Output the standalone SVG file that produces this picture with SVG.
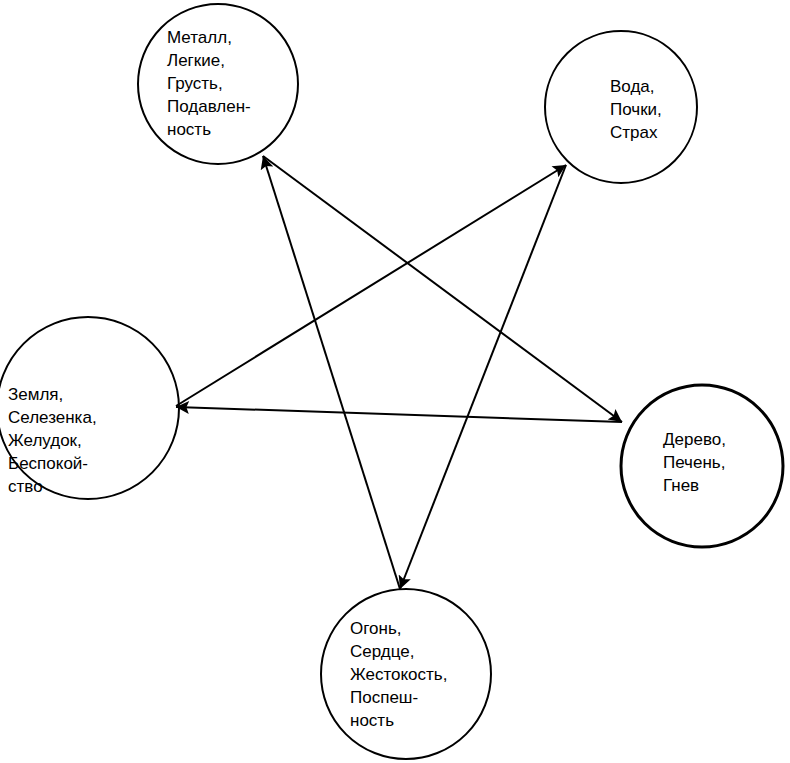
<svg xmlns="http://www.w3.org/2000/svg" width="790" height="763" viewBox="0 0 790 763">
<style>
circle{fill:#fff;stroke:#000;stroke-width:2}
text{font-family:"Liberation Sans",Arial,sans-serif;font-size:17px;fill:#000}
.c line{stroke:#000;stroke-width:2;marker-end:url(#a)}
</style>
<defs><marker id="a" viewBox="0 0 10 10" refX="10" refY="5" markerWidth="15" markerHeight="13" markerUnits="userSpaceOnUse" orient="auto"><path d="M0,0L10,5L0,10L2,5z" fill="#000"/></marker></defs>
<rect width="790" height="763" fill="#fff"/>
<g id="metal"><circle cx="218" cy="84" r="80"/><text x="167" y="43">Металл,<tspan x="167" dy="23">Легкие,</tspan><tspan x="167" dy="23">Грусть,</tspan><tspan x="167" dy="23">Подавлен-</tspan><tspan x="167" dy="23">ность</tspan></text></g>
<g id="water"><circle cx="621" cy="107" r="76"/><text x="610" y="92">Вода,<tspan x="610" dy="23">Почки,</tspan><tspan x="610" dy="23">Страх</tspan></text></g>
<g id="earth"><circle cx="88" cy="408" r="91"/><text x="8" y="400">Земля,<tspan x="8" dy="23">Селезенка,</tspan><tspan x="8" dy="23">Желудок,</tspan><tspan x="8" dy="23">Беспокой-</tspan><tspan x="8" dy="23">ство</tspan></text></g>
<g id="wood"><circle cx="702" cy="466" r="81" style="stroke-width:3"/><text x="663" y="445">Дерево,<tspan x="663" dy="23">Печень,</tspan><tspan x="663" dy="23">Гнев</tspan></text></g>
<g id="fire"><circle cx="406" cy="674" r="85"/><text x="350" y="634">Огонь,<tspan x="350" dy="23">Сердце,</tspan><tspan x="350" dy="23">Жестокость,</tspan><tspan x="350" dy="23">Поспеш-</tspan><tspan x="350" dy="23">ность</tspan></text></g>
<g class="c">
<line x1="400" y1="589" x2="263" y2="156"/>
<line x1="263" y1="156" x2="622" y2="422"/>
<line x1="622" y1="422" x2="176" y2="407"/>
<line x1="176" y1="406" x2="566" y2="165"/>
<line x1="566" y1="165" x2="400" y2="589"/>
</g>
</svg>
